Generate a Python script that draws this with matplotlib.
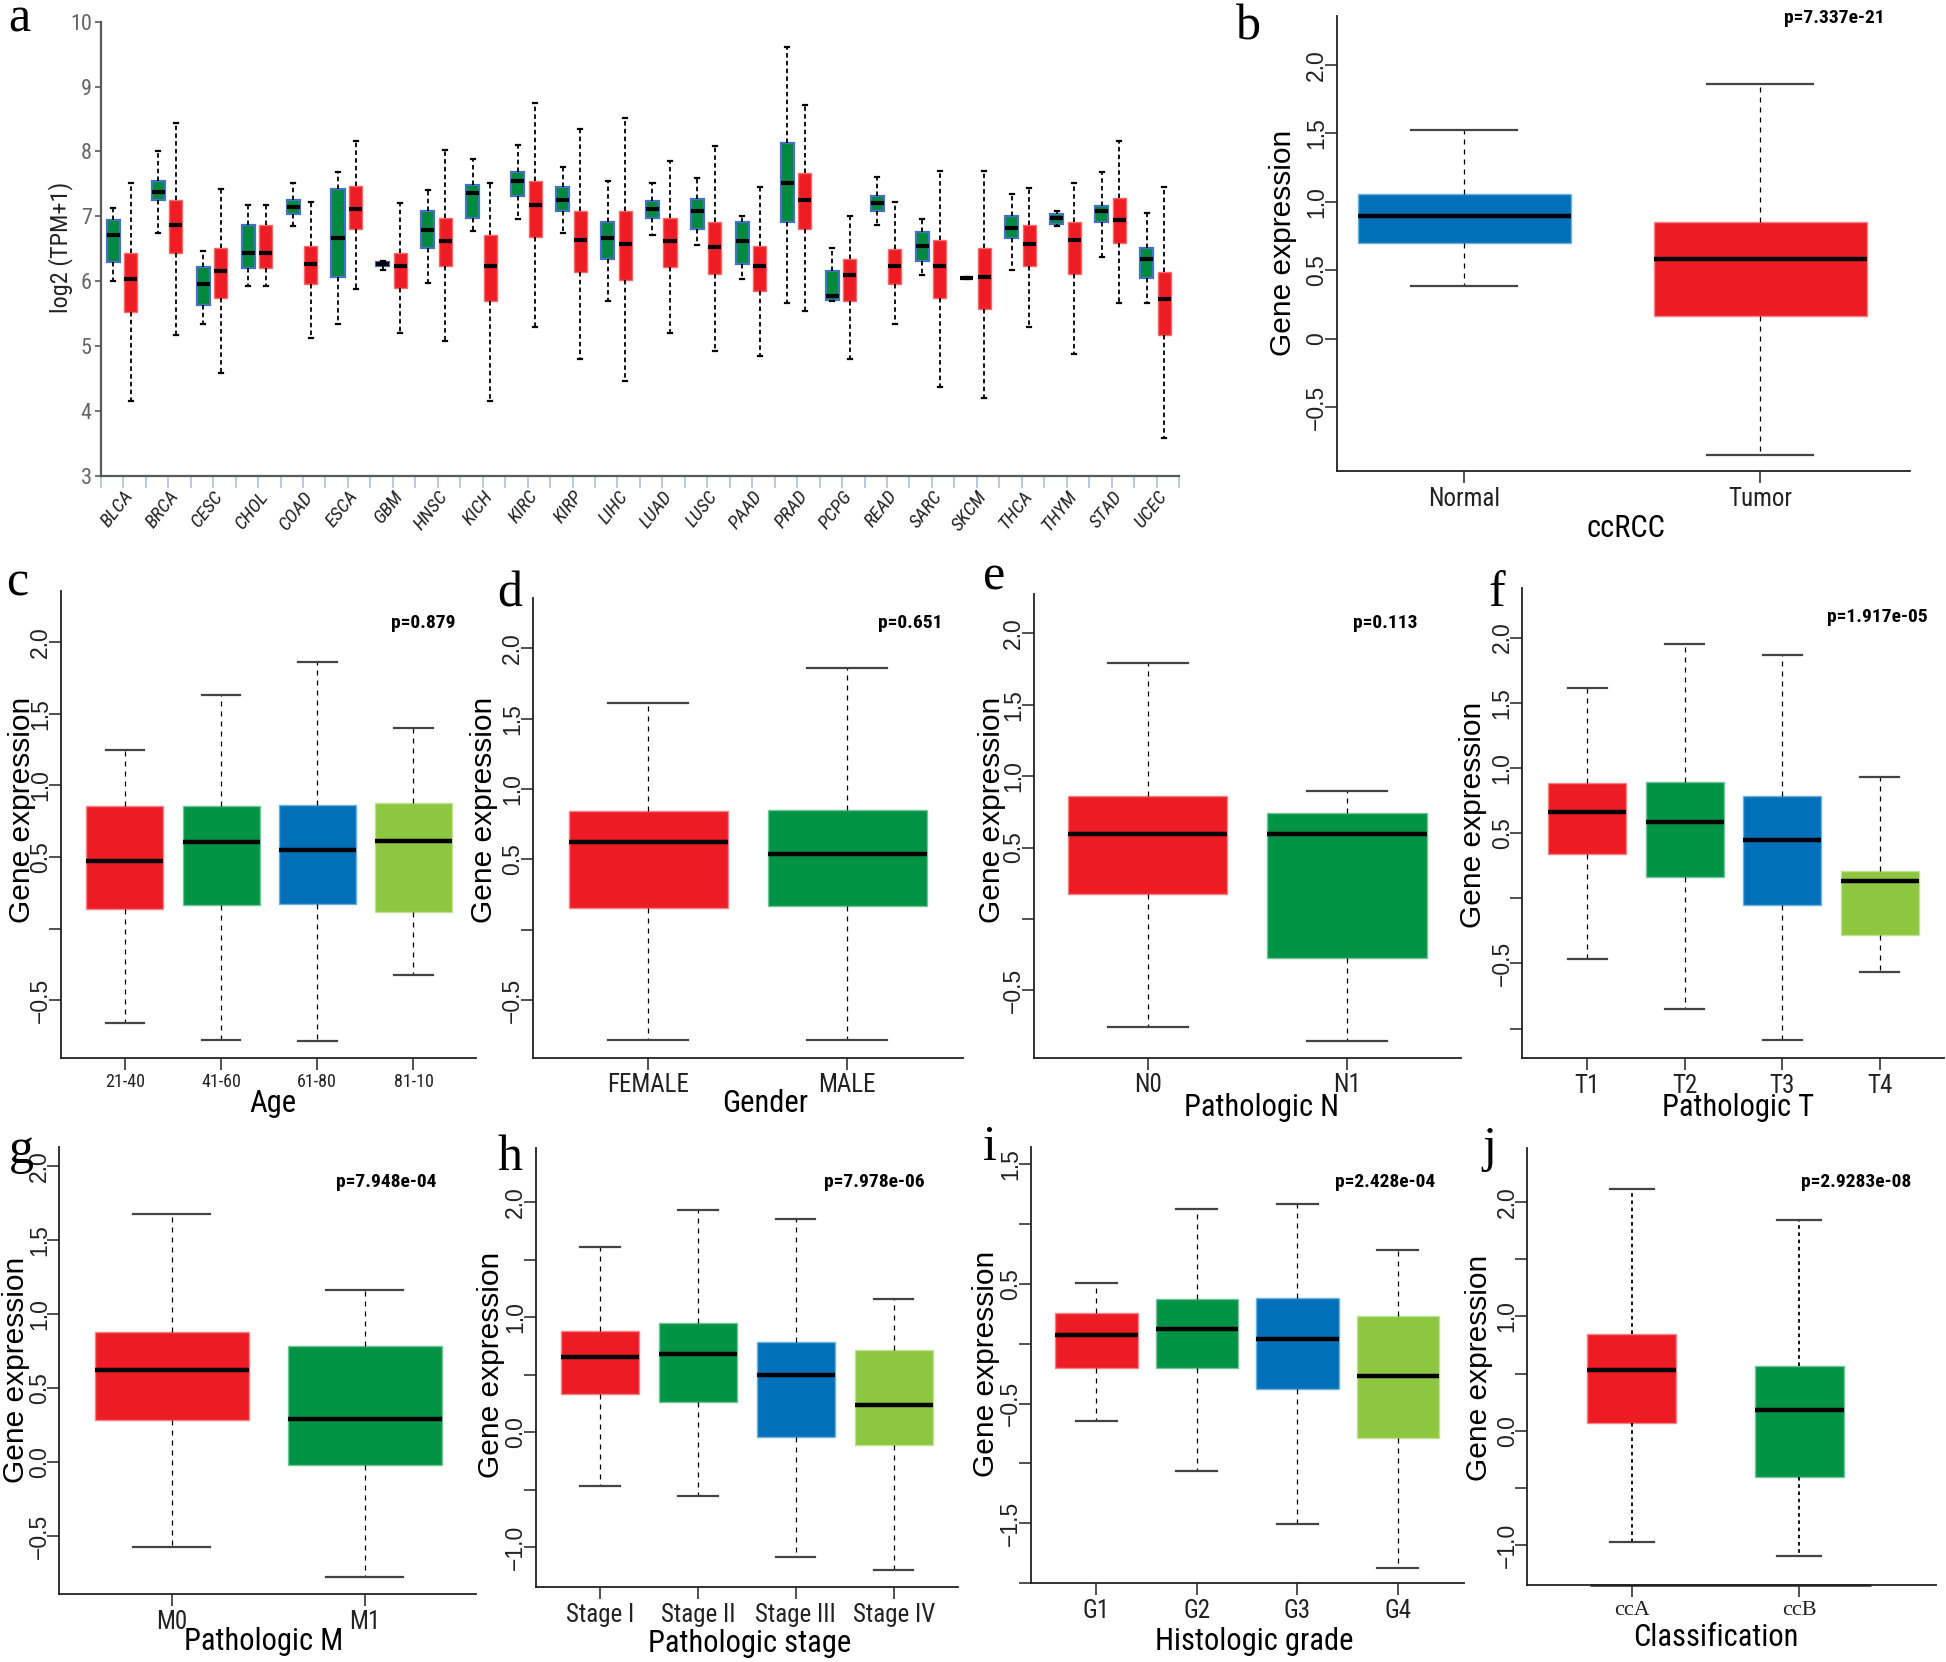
import numpy as np
import matplotlib
matplotlib.use("Agg")
import matplotlib.pyplot as plt
import matplotlib.colors as mcolors
import matplotlib.transforms as mtransforms
from matplotlib import font_manager
from matplotlib.font_manager import FontProperties

W, H = 1946, 1662

SANS = "Liberation Sans"
SERIF = "Liberation Serif"

RED = "#ED1C24"
GREEN = "#009245"
BLUE = "#0070BA"
LGREEN = "#8DC63F"

# ---------------- panel a data: pan-cancer (whislo, q1, median, q3, whishi) ----------------
cancers = ["BLCA", "BRCA", "CESC", "CHOL", "COAD", "ESCA", "GBM", "HNSC", "KICH", "KIRC",
           "KIRP", "LIHC", "LUAD", "LUSC", "PAAD", "PRAD", "PCPG", "READ", "SARC", "SKCM",
           "THCA", "THYM", "STAD", "UCEC"]
norm_lo = [6.00, 6.74, 5.34, 5.93, 6.85, 5.34, 6.17, 5.97, 6.78, 6.96, 6.74, 5.69,
           6.71, 6.56, 6.04, 5.66, 5.69, 6.86, 6.10, 6.04, 6.18, 6.85, 6.38, 5.66]
norm_q1 = [6.29, 7.25, 5.64, 6.20, 7.04, 6.06, 6.23, 6.52, 6.97, 7.31, 7.08, 6.34,
           6.98, 6.81, 6.27, 6.92, 5.71, 7.08, 6.31, 6.045, 6.66, 6.89, 6.92, 6.05]
norm_med = [6.72, 7.38, 5.96, 6.43, 7.15, 6.66, 6.26, 6.79, 7.36, 7.54, 7.25, 6.66,
            7.11, 7.09, 6.62, 7.51, 5.77, 7.21, 6.54, 6.05, 6.82, 6.97, 7.08, 6.35]
norm_q3 = [6.94, 7.54, 6.22, 6.86, 7.25, 7.42, 6.29, 7.09, 7.49, 7.69, 7.46, 6.92,
           7.23, 7.27, 6.92, 8.13, 6.16, 7.32, 6.76, 6.055, 7.01, 7.03, 7.16, 6.51]
norm_hi = [7.13, 8.00, 6.47, 7.17, 7.51, 7.68, 6.31, 7.41, 7.89, 8.10, 7.76, 7.55,
           7.52, 7.59, 7.00, 9.61, 6.52, 7.61, 6.96, 6.06, 7.35, 7.09, 7.68, 7.06]
tum_lo = [4.16, 5.18, 4.59, 5.93, 5.12, 5.88, 5.20, 5.08, 4.16, 5.29, 4.81, 4.46,
          5.20, 4.92, 4.85, 5.55, 4.81, 5.34, 4.37, 4.20, 5.29, 4.88, 5.66, 3.58]
tum_q1 = [5.52, 6.44, 5.74, 6.20, 5.96, 6.81, 5.89, 6.24, 5.70, 6.68, 6.14, 6.02,
          6.22, 6.11, 5.85, 6.81, 5.70, 5.96, 5.74, 5.58, 6.24, 6.11, 6.59, 5.17]
tum_med = [6.03, 6.86, 6.16, 6.43, 6.27, 7.11, 6.23, 6.62, 6.24, 7.18, 6.64, 6.57,
           6.62, 6.53, 6.23, 7.25, 6.09, 6.23, 6.23, 6.06, 6.57, 6.64, 6.95, 5.72]
tum_q3 = [6.44, 7.25, 6.52, 6.86, 6.55, 7.47, 6.44, 6.97, 6.72, 7.55, 7.08, 7.08,
          6.98, 6.92, 6.55, 7.67, 6.35, 6.49, 6.64, 6.51, 6.86, 6.92, 7.28, 6.14]
tum_hi = [7.51, 8.44, 7.42, 7.17, 7.22, 8.16, 7.20, 8.02, 7.52, 8.75, 8.34, 8.51,
          7.85, 8.08, 7.46, 8.71, 7.00, 7.22, 7.70, 7.70, 7.43, 7.52, 8.16, 7.45]

# ---------------- panels b-j: (whislo, q1, median, q3, whishi) ----------------
b_groups = ["Normal", "Tumor"]
b_stats = [[0.386, 0.702, 0.896, 1.057, 1.527], [-0.848, 0.167, 0.582, 0.856, 1.86]]
b_p = "p=7.337e-21"

c_groups = ["21-40", "41-60", "61-80", "81-10"]
c_stats = [[-0.656, 0.14, 0.474, 0.858, 1.247], [-0.776, 0.165, 0.603, 0.853, 1.631],
           [-0.783, 0.175, 0.551, 0.86, 1.86], [-0.324, 0.117, 0.611, 0.875, 1.40]]
c_p = "p=0.879"

d_groups = ["FEMALE", "MALE"]
d_stats = [[-0.779, 0.154, 0.623, 0.846, 1.61], [-0.784, 0.172, 0.54, 0.854, 1.863]]
d_p = "p=0.651"

e_groups = ["N0", "N1"]
e_stats = [[-0.755, 0.172, 0.595, 0.86, 1.79], [-0.853, -0.275, 0.595, 0.743, 0.893]]
e_p = "p=0.113"

f_groups = ["T1", "T2", "T3", "T4"]
f_stats = [[-0.466, 0.337, 0.66, 0.885, 1.616], [-0.847, 0.167, 0.589, 0.893, 1.948],
           [-1.09, -0.052, 0.449, 0.786, 1.863], [-0.567, -0.285, 0.132, 0.208, 0.934]]
f_p = "p=1.917e-05"

g_groups = ["M0", "M1"]
g_stats = [[-0.572, 0.283, 0.624, 0.881, 1.678], [-0.78, -0.019, 0.29, 0.785, 1.161]]
g_p = "p=7.948e-04"

h_groups = ["Stage I", "Stage II", "Stage III", "Stage IV"]
h_stats = [[-0.465, 0.334, 0.656, 0.884, 1.609], [-0.553, 0.265, 0.677, 0.95, 1.937],
           [-1.088, -0.042, 0.5, 0.782, 1.859], [-1.2, -0.114, 0.241, 0.713, 1.158]]
h_p = "p=7.978e-06"

i_groups = ["G1", "G2", "G3", "G4"]
i_stats = [[-0.647, -0.205, 0.072, 0.257, 0.506], [-1.06, -0.205, 0.124, 0.376, 1.127],
           [-1.506, -0.381, 0.043, 0.379, 1.17], [-1.876, -0.789, -0.269, 0.228, 0.786]]
i_p = "p=2.428e-04"

j_groups = ["ccA", "ccB"]
j_stats = [[-0.967, 0.07, 0.535, 0.849, 2.112], [-1.09, -0.405, 0.184, 0.565, 1.846]]
j_p = "p=2.9283e-08"


# ---------------- pick a condensed sans face if one is installed ----------------
def _weight(w):
    if isinstance(w, str):
        return font_manager.weight_dict.get(w, 400)
    return w


def find_narrow(bold=False, italic=False):
    rank = ["Liberation Sans Narrow", "Arial Narrow", "Roboto Condensed",
            "DejaVu Sans Condensed", "DejaVu Sans", "Noto Sans Condensed", "Noto Sans",
            "Open Sans Condensed", "Open Sans"]
    best, best_key = None, None
    for f in font_manager.fontManager.ttflist:
        n = f.name
        if any(k in n for k in ("Mono", "Serif", "CJK", "Display")):
            continue
        narrow = ("Narrow" in n or "Condensed" in n or
                  f.stretch in ("condensed", "semi-condensed", "extra-condensed"))
        if not narrow:
            continue
        fam_rank = next((i for i, r in enumerate(rank) if n.startswith(r)), len(rank))
        stretch_pen = 0 if f.stretch in ("condensed", "normal") else 1
        if "Extra" in n or "Ultra" in n or "Semi" in n:
            stretch_pen = 2
        wt = abs(_weight(f.weight) - (700 if bold else 400))
        st = 0 if (f.style != "normal") == italic else 1
        key = (st, fam_rank, stretch_pen, wt)
        if best_key is None or key < best_key:
            best, best_key = f.fname, key
    return best


_cache = {}


def narrow(size, bold=False, italic=False):
    k = (bold, italic)
    if k not in _cache:
        _cache[k] = find_narrow(bold, italic)
    path = _cache[k]
    if path:
        return FontProperties(fname=path, size=size)
    return FontProperties(family=SANS, size=size * 0.88,
                          weight="bold" if bold else "normal",
                          style="italic" if italic else "normal")


fig = plt.figure(figsize=(W / 100, H / 100), dpi=100)
fig.patch.set_facecolor("white")


def add_ax(l, t, r, b):
    return fig.add_axes([l / W, 1 - b / H, (r - l) / W, (b - t) / H])


def ftext(x, y, s, **kw):
    return fig.text(x / W, 1 - y / H, s, **kw)


def lighten(c, f=0.35):
    rgb = np.array(mcolors.to_rgb(c))
    return tuple(rgb + (1 - rgb) * f)


def to_bxp(groups, stats):
    return [dict(label=g, whislo=s[0], q1=s[1], med=s[2], q3=s[3], whishi=s[4])
            for g, s in zip(groups, stats)]


def box_panel(rect, groups, stats, colors, xlim, ylim, yticks, ylabels, width,
              ylab_xy, xlabel, xlab_xy, ptxt, p_xy, letter, letter_xy,
              xfp=None, ypad=-2.5, dash=(0, (4, 4)), dash_lw=0.9):
    ax = add_ax(*rect)
    pos = np.arange(1, len(groups) + 1)
    art = ax.bxp(to_bxp(groups, stats), positions=pos, widths=width,
                 capwidths=width * 0.5, patch_artist=True, showfliers=False,
                 boxprops=dict(linewidth=1.0),
                 whiskerprops=dict(color="black", linewidth=dash_lw, linestyle=dash),
                 capprops=dict(color="#444444", linewidth=1.6),
                 medianprops=dict(color="black", linewidth=3.2, solid_capstyle="butt"))
    for patch, c in zip(art["boxes"], colors):
        patch.set_facecolor(c)
        patch.set_edgecolor(lighten(c, 0.45))
    ax.set_xlim(*xlim)
    ax.set_ylim(*ylim)
    for s in ["top", "right"]:
        ax.spines[s].set_visible(False)
    for s in ["left", "bottom"]:
        ax.spines[s].set_color("#222222")
        ax.spines[s].set_linewidth(1.3)
    ax.set_xticks(pos)
    ax.set_xticklabels(groups, fontproperties=xfp or narrow(18), color="#222222")
    ax.set_yticks(yticks)
    ax.set_yticklabels(ylabels, fontfamily=SANS, fontsize=16.5, rotation=90,
                       va="center", color="#222222")
    ax.tick_params(axis="both", direction="out", length=8.5, width=1.2, color="#333333")
    ax.tick_params(axis="y", pad=ypad)
    ax.tick_params(axis="x", pad=3)
    ax.set_ylabel("Gene expression", fontfamily=SANS, fontsize=21.5)
    ax.yaxis.set_label_coords(ylab_xy[0] / W, 1 - ylab_xy[1] / H, transform=fig.transFigure)
    ax.yaxis.label.set_va("center")
    ax.set_xlabel(xlabel, fontproperties=narrow(22))
    ax.xaxis.set_label_coords(xlab_xy[0] / W, 1 - xlab_xy[1] / H, transform=fig.transFigure)
    ax.xaxis.label.set_va("center")
    ftext(p_xy[0], p_xy[1], ptxt, ha="right", va="center",
          fontproperties=narrow(14, bold=True))
    ftext(letter_xy[0], letter_xy[1], letter, ha="left", va="baseline",
          fontfamily=SERIF, fontsize=36)
    return ax


# ---------------- panel a ----------------
axa = add_ax(100.8, 21.7, 1179, 476)
xc = np.arange(len(cancers))
nstats = [dict(whislo=a, q1=b, med=c, q3=d, whishi=e)
          for a, b, c, d, e in zip(norm_lo, norm_q1, norm_med, norm_q3, norm_hi)]
tstats = [dict(whislo=a, q1=b, med=c, q3=d, whishi=e)
          for a, b, c, d, e in zip(tum_lo, tum_q1, tum_med, tum_q3, tum_hi)]
common = dict(widths=0.29, capwidths=0.09, patch_artist=True, showfliers=False,
              whiskerprops=dict(color="black", linewidth=1.3, linestyle=(0, (2.5, 1.8))),
              capprops=dict(color="black", linewidth=1.6),
              medianprops=dict(color="black", linewidth=3.0, solid_capstyle="butt"))
axa.bxp(nstats, positions=xc - 0.22, boxprops=dict(facecolor="#00893F",
        edgecolor="#4472C4", linewidth=1.6), **common)
axa.bxp(tstats, positions=xc + 0.17, boxprops=dict(facecolor="#EE1C25",
        edgecolor="#F46A6A", linewidth=1.0), **common)
axa.set_xlim(-0.5, len(cancers) - 0.5)
axa.set_ylim(3, 10)
for s in ["top", "right"]:
    axa.spines[s].set_visible(False)
for s in ["left", "bottom"]:
    axa.spines[s].set_color("#595959")
    axa.spines[s].set_linewidth(1.6)
axa.set_yticks(range(3, 11))
axa.set_yticklabels([str(v) for v in range(3, 11)], fontproperties=narrow(16),
                    color="#666666")
axa.tick_params(axis="y", direction="out", length=4.5, width=1.2, color="#595959", pad=2)
axa.set_xticks(xc)
axa.set_xticks(np.arange(-0.5, len(cancers)), minor=True)
axa.set_xticklabels([])
axa.tick_params(axis="x", which="both", direction="out", length=8.3, width=1.4,
                color="#B8CCE4")
lab_off = mtransforms.ScaledTranslation(7 / 100, -17 / 100, fig.dpi_scale_trans)
for x, name in zip(xc, cancers):
    axa.text(x, 0, name, transform=axa.get_xaxis_transform() + lab_off,
             rotation=52, rotation_mode="anchor", ha="right", va="center",
             fontproperties=narrow(14, italic=True), color="#222222")
axa.set_ylabel("log2 (TPM+1)", fontproperties=narrow(17.5), color="#222222")
axa.yaxis.set_label_coords(61 / W, 1 - 247 / H, transform=fig.transFigure)
axa.yaxis.label.set_va("center")
ftext(8, 31.6, "a", ha="left", va="baseline", fontfamily=SERIF, fontsize=36)

# ---------------- panels b-j ----------------
half = [-0.5, 0, 0.5, 1.0, 1.5, 2.0]
box_panel((1336.5, 16, 1910, 471.4), b_groups, b_stats, [BLUE, RED], (0.569, 2.506),
          (-0.97, 2.358), half, ["\u22120.5", "0", "0.5", "1.0", "1.5", "2.0"], 0.72,
          (1283, 243), "ccRCC", (1626, 528.6), b_p, (1885, 18), "b", (1236, 39))

box_panel((60.6, 591.4, 476, 1057.5), c_groups, c_stats, [RED, GREEN, BLUE, LGREEN],
          (0.331, 4.65), (-0.9, 2.354), half,
          ["\u22120.5", "", "0.5", "1.0", "1.5", "2.0"], 0.8,
          (22, 810), "Age", (273, 1103), c_p, (456, 622.5), "c", (6, 596),
          xfp=narrow(13))

box_panel((532.5, 597.5, 962.5, 1057.5), d_groups, d_stats, [RED, GREEN],
          (0.418, 2.58), (-0.906, 2.36), half,
          ["\u22120.5", "", "0.5", "1.0", "1.5", "2.0"], 0.8,
          (484, 810), "Gender", (765, 1103), d_p, (942.5, 622.5), "d", (497, 606))

box_panel((1033.6, 594, 1460.6, 1057.5), e_groups, e_stats, [RED, GREEN],
          (0.427, 2.57), (-0.97, 2.275), half,
          ["\u22120.5", "", "0.5", "1.0", "1.5", "2.0"], 0.8,
          (992, 810), "Pathologic N", (1262, 1108), e_p, (1417.5, 622.5), "e", (983, 590))

box_panel((1522, 588, 1944, 1058), f_groups, f_stats, [RED, GREEN, BLUE, LGREEN],
          (0.33, 4.66), (-1.225, 2.38), [-1.0] + half,
          ["", "\u22120.5", "", "0.5", "1.0", "1.5", "2.0"], 0.8,
          (1473, 815), "Pathologic T", (1738, 1108), f_p, (1927.6, 617), "f", (1488, 606))

box_panel((59.4, 1147, 476, 1593.6), g_groups, g_stats, [RED, GREEN],
          (0.417, 2.576), (-0.89, 2.13), half,
          ["\u22120.5", "0.0", "0.5", "1.0", "1.5", "2.0"], 0.8,
          (15.6, 1370), "Pathologic M", (264, 1642), g_p, (436, 1182), "g", (9, 1163))

box_panel((535.6, 1147.7, 957.5, 1586.6), h_groups, h_stats, [RED, GREEN, BLUE, LGREEN],
          (0.343, 4.65), (-1.343, 2.475), [-1.0] + half,
          ["\u22121.0", "", "0.0", "", "1.0", "", "2.0"], 0.8,
          (490.6, 1365), "Pathologic stage", (750, 1644), h_p, (925, 1182), "h", (497, 1170))

box_panel((1030.5, 1147, 1463.7, 1583), i_groups, i_stats, [RED, GREEN, BLUE, LGREEN],
          (0.344, 4.656), (-2.0, 1.645), [-2.0, -1.5, -1.0, -0.5, 0, 0.5, 1.0, 1.5],
          ["", "\u22121.5", "", "\u22120.5", "", "0.5", "", "1.5"], 0.82,
          (986, 1364), "Histologic grade", (1254, 1642), i_p, (1434.7, 1182), "i", (983, 1160))

axj = box_panel((1527, 1147.7, 1936, 1585), j_groups, j_stats, [RED, GREEN],
                (0.375, 2.816), (-1.347, 2.474), [-1.0] + half,
                ["\u22121.0", "", "0.0", "", "1.0", "", "2.0"], 0.53,
                (1479, 1368), "Classification", (1716, 1637), j_p, (1911.6, 1182), "j",
                (1482, 1161), xfp=FontProperties(family=SERIF, size=16),
                dash=(0, (2, 2)), dash_lw=1.3)
# slightly heavier axis segment drawn by R's axis() under the two groups
axj.plot([0.75, 2.43], [0, 0], transform=axj.get_xaxis_transform(), color="#333333",
         linewidth=1.9, solid_capstyle="butt", clip_on=False)

fig.savefig("out.png", dpi=100, facecolor="white")
